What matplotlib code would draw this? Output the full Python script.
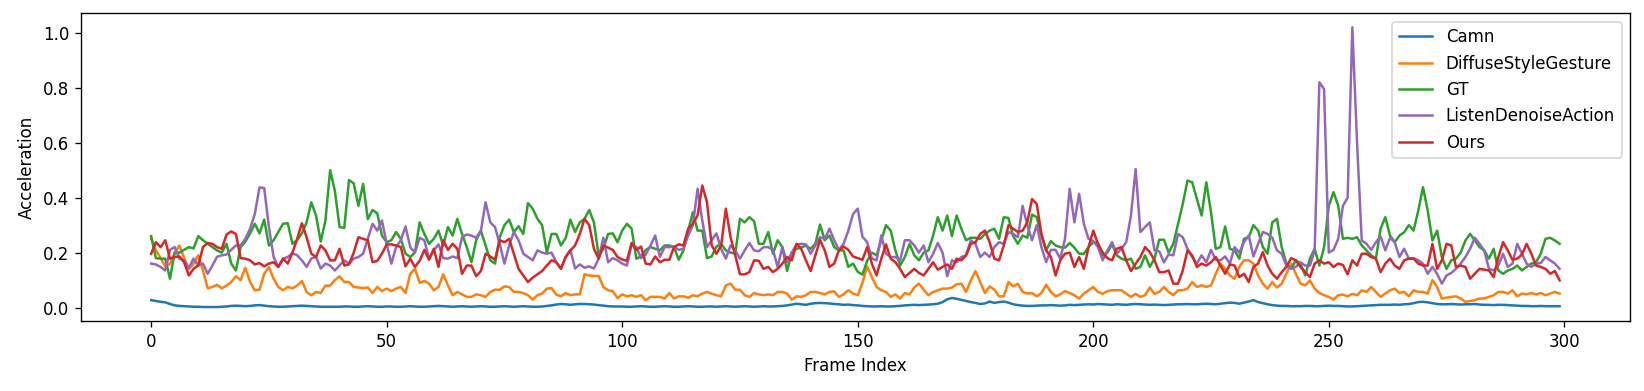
import numpy as np
import matplotlib
matplotlib.use("Agg")
import matplotlib.pyplot as plt

# acceleration per frame (frames 0..299)
camn = [
    0.027, 0.024, 0.021, 0.019, 0.013, 0.008, 0.006, 0.005, 0.004, 0.003,
    0.003, 0.002, 0.002, 0.002, 0.002, 0.003, 0.004, 0.006, 0.007, 0.006,
    0.005, 0.006, 0.008, 0.009, 0.007, 0.005, 0.004, 0.003, 0.003, 0.004,
    0.005, 0.006, 0.007, 0.006, 0.005, 0.004, 0.003, 0.003, 0.003, 0.003,
    0.003, 0.004, 0.004, 0.003, 0.003, 0.004, 0.005, 0.004, 0.003, 0.003,
    0.004, 0.004, 0.003, 0.003, 0.004, 0.005, 0.004, 0.003, 0.003, 0.004,
    0.005, 0.006, 0.005, 0.004, 0.003, 0.004, 0.005, 0.004, 0.003, 0.004,
    0.005, 0.004, 0.003, 0.003, 0.004, 0.005, 0.004, 0.003, 0.004, 0.005,
    0.004, 0.003, 0.003, 0.004, 0.006, 0.008, 0.011, 0.013, 0.012, 0.010,
    0.012, 0.013, 0.013, 0.012, 0.011, 0.009, 0.007, 0.005, 0.004, 0.004,
    0.004, 0.003, 0.003, 0.004, 0.005, 0.004, 0.003, 0.003, 0.004, 0.005,
    0.004, 0.003, 0.003, 0.004, 0.005, 0.004, 0.003, 0.003, 0.004, 0.004,
    0.003, 0.004, 0.005, 0.004, 0.003, 0.004, 0.005, 0.004, 0.003, 0.004,
    0.005, 0.004, 0.004, 0.005, 0.006, 0.008, 0.011, 0.014, 0.012, 0.010,
    0.014, 0.016, 0.017, 0.016, 0.015, 0.013, 0.012, 0.010, 0.011, 0.009,
    0.008, 0.006, 0.005, 0.004, 0.004, 0.005, 0.004, 0.004, 0.005, 0.006,
    0.008, 0.009, 0.010, 0.009, 0.010, 0.011, 0.012, 0.014, 0.020, 0.030,
    0.035, 0.032, 0.028, 0.024, 0.020, 0.017, 0.013, 0.015, 0.022, 0.017,
    0.020, 0.022, 0.018, 0.012, 0.009, 0.007, 0.006, 0.006, 0.007, 0.008,
    0.008, 0.009, 0.008, 0.007, 0.008, 0.010, 0.009, 0.010, 0.011, 0.012,
    0.011, 0.013, 0.012, 0.011, 0.010, 0.012, 0.011, 0.010, 0.012, 0.013,
    0.012, 0.011, 0.010, 0.011, 0.010, 0.009, 0.010, 0.011, 0.012, 0.012,
    0.013, 0.012, 0.012, 0.013, 0.014, 0.013, 0.012, 0.014, 0.016, 0.018,
    0.017, 0.014, 0.018, 0.022, 0.027, 0.020, 0.016, 0.012, 0.009, 0.007,
    0.006, 0.006, 0.005, 0.005, 0.005, 0.006, 0.006, 0.005, 0.005, 0.006,
    0.007, 0.006, 0.006, 0.005, 0.004, 0.004, 0.005, 0.006, 0.007, 0.008,
    0.009, 0.010, 0.010, 0.010, 0.011, 0.010, 0.012, 0.013, 0.016, 0.020,
    0.021, 0.019, 0.016, 0.013, 0.012, 0.012, 0.013, 0.012, 0.011, 0.012,
    0.012, 0.013, 0.011, 0.010, 0.010, 0.009, 0.010, 0.010, 0.009, 0.008,
    0.007, 0.006, 0.006, 0.005, 0.005, 0.006, 0.005, 0.005, 0.005, 0.005,
]

diffuse_style_gesture = [
    0.250, 0.210, 0.180, 0.150, 0.160, 0.200, 0.226, 0.180, 0.140, 0.160,
    0.190, 0.135, 0.070, 0.075, 0.083, 0.070, 0.080, 0.093, 0.114, 0.100,
    0.145, 0.093, 0.063, 0.065, 0.123, 0.147, 0.105, 0.075, 0.063, 0.075,
    0.070, 0.080, 0.097, 0.057, 0.045, 0.057, 0.053, 0.080, 0.080, 0.100,
    0.114, 0.093, 0.093, 0.075, 0.073, 0.071, 0.073, 0.053, 0.075, 0.060,
    0.069, 0.060, 0.069, 0.075, 0.053, 0.123, 0.141, 0.090, 0.097, 0.087,
    0.063, 0.075, 0.121, 0.081, 0.045, 0.057, 0.048, 0.039, 0.039, 0.048,
    0.045, 0.039, 0.057, 0.065, 0.065, 0.077, 0.075, 0.057, 0.057, 0.053,
    0.045, 0.029, 0.045, 0.051, 0.069, 0.071, 0.047, 0.041, 0.053, 0.045,
    0.048, 0.048, 0.121, 0.117, 0.115, 0.115, 0.075, 0.063, 0.060, 0.035,
    0.048, 0.041, 0.045, 0.039, 0.045, 0.027, 0.039, 0.039, 0.039, 0.033,
    0.053, 0.033, 0.041, 0.041, 0.036, 0.045, 0.041, 0.051, 0.057, 0.051,
    0.045, 0.041, 0.081, 0.087, 0.065, 0.065, 0.045, 0.039, 0.053, 0.048,
    0.045, 0.048, 0.045, 0.057, 0.057, 0.051, 0.029, 0.041, 0.039, 0.045,
    0.057, 0.057, 0.053, 0.048, 0.057, 0.059, 0.039, 0.048, 0.063, 0.051,
    0.045, 0.090, 0.150, 0.111, 0.075, 0.063, 0.057, 0.039, 0.048, 0.033,
    0.053, 0.048, 0.073, 0.087, 0.065, 0.045, 0.057, 0.063, 0.069, 0.069,
    0.073, 0.085, 0.087, 0.057, 0.099, 0.133, 0.093, 0.053, 0.077, 0.065,
    0.041, 0.041, 0.093, 0.077, 0.087, 0.057, 0.051, 0.053, 0.041, 0.053,
    0.083, 0.057, 0.041, 0.048, 0.060, 0.053, 0.045, 0.033, 0.051, 0.063,
    0.075, 0.057, 0.050, 0.060, 0.063, 0.063, 0.063, 0.051, 0.039, 0.050,
    0.039, 0.045, 0.073, 0.050, 0.057, 0.075, 0.057, 0.045, 0.063, 0.063,
    0.069, 0.093, 0.075, 0.081, 0.075, 0.081, 0.123, 0.160, 0.141, 0.117,
    0.105, 0.148, 0.172, 0.172, 0.160, 0.117, 0.087, 0.069, 0.093, 0.073,
    0.087, 0.123, 0.160, 0.123, 0.087, 0.081, 0.099, 0.069, 0.053, 0.045,
    0.039, 0.029, 0.045, 0.047, 0.041, 0.050, 0.045, 0.063, 0.057, 0.075,
    0.057, 0.039, 0.051, 0.063, 0.069, 0.053, 0.057, 0.041, 0.063, 0.057,
    0.057, 0.051, 0.100, 0.075, 0.033, 0.036, 0.039, 0.041, 0.033, 0.021,
    0.024, 0.027, 0.033, 0.033, 0.039, 0.045, 0.057, 0.057, 0.051, 0.063,
    0.041, 0.051, 0.048, 0.053, 0.048, 0.053, 0.045, 0.051, 0.057, 0.051,
]

gt = [
    0.260, 0.180, 0.178, 0.178, 0.105, 0.200, 0.200, 0.210, 0.220, 0.215,
    0.260, 0.245, 0.232, 0.220, 0.208, 0.200, 0.232, 0.160, 0.135, 0.220,
    0.240, 0.270, 0.305, 0.270, 0.320, 0.226, 0.245, 0.275, 0.305, 0.307,
    0.232, 0.245, 0.270, 0.310, 0.383, 0.335, 0.240, 0.317, 0.500, 0.425,
    0.293, 0.290, 0.464, 0.452, 0.370, 0.450, 0.322, 0.355, 0.343, 0.262,
    0.238, 0.245, 0.275, 0.250, 0.196, 0.184, 0.200, 0.310, 0.268, 0.232,
    0.250, 0.280, 0.226, 0.293, 0.262, 0.323, 0.268, 0.220, 0.165, 0.245,
    0.280, 0.226, 0.172, 0.160, 0.256, 0.300, 0.320, 0.275, 0.296, 0.268,
    0.380, 0.360, 0.323, 0.300, 0.200, 0.268, 0.268, 0.226, 0.253, 0.320,
    0.275, 0.310, 0.323, 0.355, 0.310, 0.190, 0.214, 0.268, 0.270, 0.238,
    0.280, 0.305, 0.287, 0.178, 0.186, 0.210, 0.220, 0.214, 0.208, 0.226,
    0.226, 0.220, 0.174, 0.208, 0.280, 0.347, 0.280, 0.280, 0.180, 0.186,
    0.222, 0.232, 0.208, 0.200, 0.196, 0.323, 0.310, 0.329, 0.314, 0.232,
    0.232, 0.275, 0.196, 0.245, 0.220, 0.133, 0.200, 0.214, 0.218, 0.226,
    0.214, 0.232, 0.302, 0.245, 0.262, 0.220, 0.208, 0.208, 0.148, 0.160,
    0.130, 0.120, 0.170, 0.200, 0.190, 0.245, 0.300, 0.280, 0.208, 0.153,
    0.184, 0.232, 0.190, 0.172, 0.200, 0.208, 0.262, 0.329, 0.280, 0.335,
    0.260, 0.335, 0.287, 0.245, 0.254, 0.254, 0.250, 0.268, 0.280, 0.287,
    0.250, 0.329, 0.326, 0.260, 0.232, 0.262, 0.254, 0.338, 0.329, 0.262,
    0.208, 0.242, 0.226, 0.220, 0.218, 0.235, 0.218, 0.196, 0.196, 0.220,
    0.238, 0.235, 0.190, 0.200, 0.230, 0.190, 0.178, 0.172, 0.178, 0.141,
    0.148, 0.190, 0.148, 0.178, 0.247, 0.247, 0.200, 0.232, 0.305, 0.377,
    0.462, 0.456, 0.395, 0.335, 0.456, 0.347, 0.214, 0.220, 0.295, 0.214,
    0.208, 0.178, 0.250, 0.256, 0.300, 0.280, 0.220, 0.196, 0.310, 0.323,
    0.220, 0.160, 0.141, 0.172, 0.160, 0.117, 0.178, 0.214, 0.153, 0.220,
    0.370, 0.420, 0.371, 0.250, 0.254, 0.250, 0.256, 0.226, 0.208, 0.190,
    0.178, 0.287, 0.329, 0.262, 0.238, 0.262, 0.274, 0.300, 0.280, 0.353,
    0.438, 0.353, 0.244, 0.280, 0.184, 0.141, 0.172, 0.178, 0.200, 0.244,
    0.268, 0.244, 0.220, 0.208, 0.178, 0.214, 0.135, 0.123, 0.135, 0.141,
    0.153, 0.135, 0.148, 0.160, 0.165, 0.196, 0.250, 0.254, 0.244, 0.232,
]

listen_denoise_action = [
    0.160, 0.157, 0.148, 0.135, 0.210, 0.220, 0.178, 0.172, 0.145, 0.178,
    0.153, 0.160, 0.123, 0.153, 0.185, 0.190, 0.193, 0.210, 0.226, 0.226,
    0.250, 0.287, 0.340, 0.437, 0.435, 0.293, 0.184, 0.148, 0.178, 0.184,
    0.198, 0.190, 0.172, 0.148, 0.178, 0.185, 0.142, 0.160, 0.153, 0.135,
    0.153, 0.172, 0.160, 0.178, 0.184, 0.196, 0.250, 0.305, 0.280, 0.317,
    0.232, 0.160, 0.220, 0.245, 0.295, 0.220, 0.200, 0.254, 0.245, 0.178,
    0.208, 0.230, 0.180, 0.178, 0.186, 0.180, 0.256, 0.266, 0.262, 0.254,
    0.280, 0.383, 0.310, 0.293, 0.232, 0.160, 0.226, 0.275, 0.245, 0.196,
    0.184, 0.172, 0.208, 0.200, 0.196, 0.200, 0.165, 0.142, 0.184, 0.210,
    0.142, 0.157, 0.145, 0.150, 0.142, 0.178, 0.254, 0.165, 0.180, 0.172,
    0.160, 0.153, 0.230, 0.220, 0.180, 0.193, 0.226, 0.262, 0.184, 0.220,
    0.220, 0.222, 0.210, 0.214, 0.262, 0.300, 0.432, 0.317, 0.220, 0.245,
    0.270, 0.214, 0.178, 0.226, 0.208, 0.178, 0.208, 0.235, 0.208, 0.205,
    0.220, 0.220, 0.210, 0.148, 0.220, 0.165, 0.200, 0.230, 0.232, 0.230,
    0.196, 0.226, 0.256, 0.250, 0.287, 0.245, 0.210, 0.232, 0.280, 0.340,
    0.360, 0.258, 0.238, 0.178, 0.172, 0.262, 0.196, 0.184, 0.184, 0.172,
    0.245, 0.245, 0.226, 0.200, 0.226, 0.165, 0.196, 0.235, 0.200, 0.114,
    0.172, 0.165, 0.184, 0.190, 0.245, 0.232, 0.184, 0.200, 0.184, 0.220,
    0.238, 0.232, 0.275, 0.268, 0.256, 0.370, 0.300, 0.245, 0.300, 0.220,
    0.165, 0.210, 0.210, 0.178, 0.250, 0.432, 0.310, 0.414, 0.305, 0.250,
    0.242, 0.220, 0.172, 0.208, 0.238, 0.196, 0.214, 0.238, 0.335, 0.504,
    0.275, 0.293, 0.310, 0.208, 0.205, 0.165, 0.193, 0.190, 0.268, 0.256,
    0.214, 0.184, 0.160, 0.190, 0.165, 0.210, 0.174, 0.172, 0.186, 0.160,
    0.220, 0.200, 0.238, 0.262, 0.186, 0.232, 0.275, 0.268, 0.254, 0.208,
    0.196, 0.153, 0.141, 0.148, 0.165, 0.153, 0.153, 0.208, 0.820, 0.795,
    0.200, 0.210, 0.250, 0.370, 0.400, 1.020, 0.600, 0.244, 0.232, 0.210,
    0.238, 0.259, 0.208, 0.254, 0.238, 0.184, 0.214, 0.178, 0.180, 0.172,
    0.160, 0.123, 0.148, 0.123, 0.087, 0.117, 0.126, 0.141, 0.160, 0.184,
    0.214, 0.254, 0.232, 0.208, 0.141, 0.135, 0.153, 0.196, 0.148, 0.160,
    0.232, 0.196, 0.160, 0.148, 0.160, 0.162, 0.184, 0.172, 0.160, 0.141,
]

ours = [
    0.196, 0.238, 0.220, 0.245, 0.178, 0.184, 0.186, 0.165, 0.117, 0.141,
    0.153, 0.220, 0.235, 0.232, 0.220, 0.214, 0.266, 0.277, 0.268, 0.180,
    0.178, 0.172, 0.157, 0.162, 0.150, 0.160, 0.165, 0.148, 0.178, 0.160,
    0.200, 0.250, 0.307, 0.256, 0.196, 0.184, 0.226, 0.208, 0.172, 0.172,
    0.214, 0.153, 0.157, 0.200, 0.256, 0.250, 0.245, 0.165, 0.170, 0.196,
    0.230, 0.230, 0.226, 0.220, 0.150, 0.178, 0.148, 0.170, 0.210, 0.174,
    0.214, 0.148, 0.245, 0.210, 0.232, 0.214, 0.123, 0.153, 0.153, 0.114,
    0.133, 0.196, 0.186, 0.174, 0.245, 0.238, 0.250, 0.196, 0.141, 0.117,
    0.093, 0.109, 0.121, 0.133, 0.153, 0.172, 0.165, 0.141, 0.184, 0.208,
    0.226, 0.268, 0.323, 0.300, 0.214, 0.178, 0.226, 0.218, 0.210, 0.184,
    0.175, 0.170, 0.235, 0.210, 0.222, 0.160, 0.157, 0.186, 0.165, 0.174,
    0.174, 0.220, 0.230, 0.226, 0.287, 0.305, 0.335, 0.444, 0.383, 0.226,
    0.196, 0.226, 0.360, 0.256, 0.190, 0.121, 0.121, 0.129, 0.172, 0.170,
    0.141, 0.148, 0.129, 0.141, 0.160, 0.184, 0.172, 0.232, 0.214, 0.172,
    0.133, 0.190, 0.246, 0.208, 0.148, 0.160, 0.208, 0.222, 0.210, 0.186,
    0.180, 0.174, 0.220, 0.160, 0.117, 0.178, 0.230, 0.178, 0.165, 0.141,
    0.111, 0.126, 0.141, 0.126, 0.117, 0.141, 0.165, 0.138, 0.148, 0.157,
    0.141, 0.178, 0.172, 0.190, 0.232, 0.238, 0.268, 0.280, 0.238, 0.178,
    0.172, 0.226, 0.300, 0.287, 0.275, 0.280, 0.310, 0.395, 0.377, 0.268,
    0.208, 0.184, 0.117, 0.172, 0.196, 0.200, 0.148, 0.184, 0.141, 0.220,
    0.280, 0.232, 0.200, 0.180, 0.172, 0.214, 0.220, 0.172, 0.133, 0.160,
    0.184, 0.220, 0.202, 0.172, 0.129, 0.129, 0.135, 0.087, 0.087, 0.135,
    0.208, 0.190, 0.148, 0.160, 0.153, 0.165, 0.184, 0.153, 0.123, 0.157,
    0.153, 0.111, 0.123, 0.093, 0.148, 0.160, 0.202, 0.153, 0.123, 0.105,
    0.129, 0.148, 0.180, 0.172, 0.148, 0.129, 0.111, 0.160, 0.172, 0.160,
    0.165, 0.148, 0.160, 0.155, 0.121, 0.172, 0.153, 0.196, 0.196, 0.184,
    0.178, 0.129, 0.160, 0.178, 0.153, 0.141, 0.172, 0.178, 0.178, 0.160,
    0.153, 0.153, 0.232, 0.141, 0.172, 0.232, 0.226, 0.148, 0.153, 0.148,
    0.105, 0.123, 0.141, 0.138, 0.135, 0.111, 0.184, 0.238, 0.208, 0.174,
    0.178, 0.193, 0.232, 0.196, 0.153, 0.148, 0.141, 0.123, 0.133, 0.099,
]

series_names = ["Camn", "DiffuseStyleGesture", "GT", "ListenDenoiseAction", "Ours"]
series_colors = ["tab:blue", "tab:orange", "tab:green", "tab:purple", "tab:red"]


def plot_accelerations(series, names, colors):
    """Draw every method's per-frame acceleration on one axis."""
    fig = plt.figure(figsize=(1644 / 120, 391 / 120), dpi=120)
    ax = fig.add_subplot(111)
    fig.subplots_adjust(left=0.0491, right=0.9915, bottom=0.179, top=0.966)

    for values, name, color in zip(series, names, colors):
        ax.plot(np.arange(len(values)), values, label=name, color=color)

    ax.set_xlabel("Frame Index")
    ax.set_ylabel("Acceleration")
    ax.legend(loc="upper right")
    return fig


fig = plot_accelerations(
    [camn, diffuse_style_gesture, gt, listen_denoise_action, ours],
    series_names,
    series_colors,
)
fig.savefig("out.png", dpi=120)
